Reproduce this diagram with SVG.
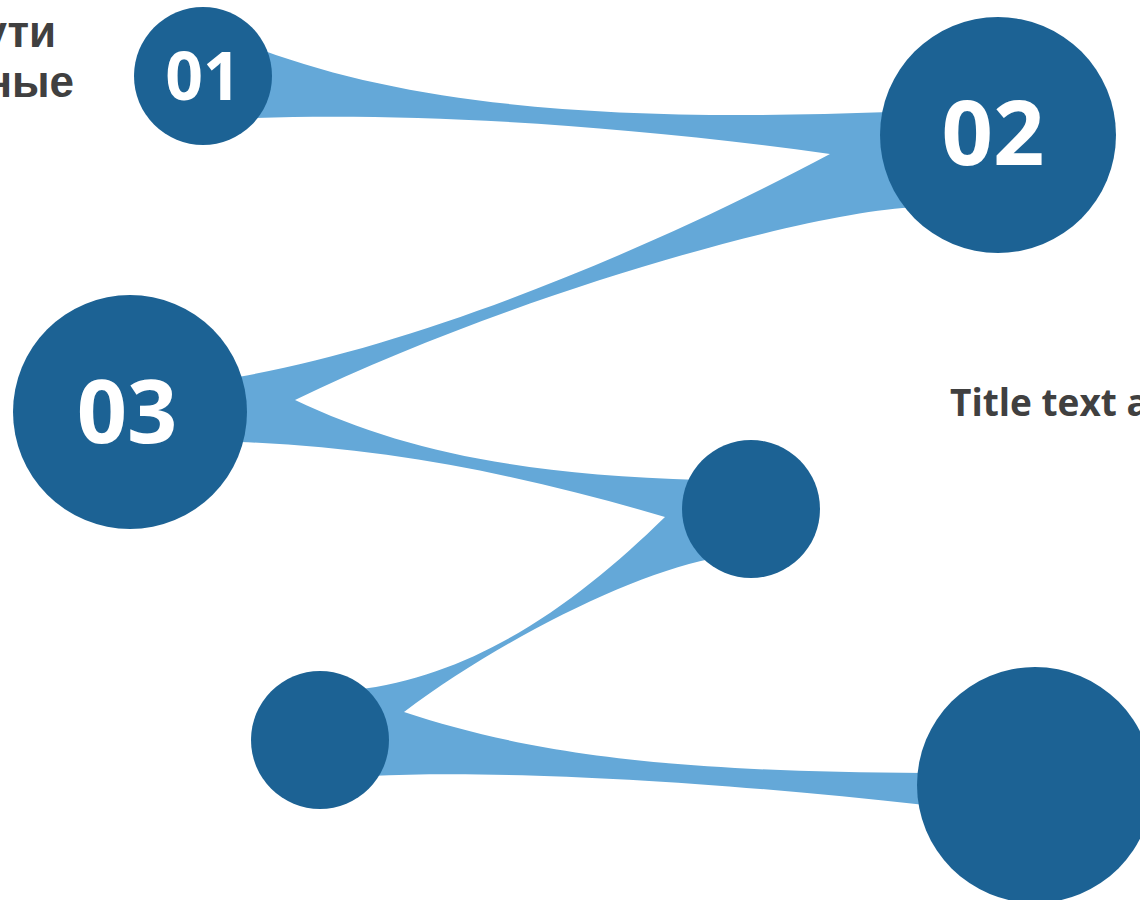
<svg xmlns="http://www.w3.org/2000/svg" width="1140" height="900" viewBox="0 0 1140 900">
  <style>
    .ribbon { fill: #64A8D8; }
    .node { fill: #1C6294; }
    .num { fill: #FFFFFF; font-family: "Open Sans", "Liberation Sans", sans-serif; font-weight: bold; text-anchor: middle; }
    .label { fill: #404040; font-weight: bold; }
  </style>
  <rect width="1140" height="900" fill="#FFFFFF"/>
  <g id="connectors">
    <path class="ribbon" d="M 262 50 C 420 108, 620 122, 890 112 L 917 207 C 800 212, 500 300, 295 400 C 400 450, 520 475, 700 480 L 710 559 C 630 575, 500 640, 404 712 C 520 750, 650 772, 925 773 L 925 805 C 700 780, 500 770, 370 776 L 355 690 C 480 675, 580 600, 665 517 C 540 480, 400 448, 240 442 L 238 377 C 420 345, 650 250, 830 154 C 600 122, 400 113, 255 118 Z"/>
  </g>
  <g id="label-left" class="label" font-family="Liberation Sans, Arial, sans-serif" font-size="44" text-anchor="end">
    <text x="56" y="47">ути</text>
    <text x="74" y="97">ные</text>
  </g>
  <g id="node-01">
    <circle class="node" cx="203" cy="76" r="69"/>
    <text class="num" x="203" y="100" font-size="66">01</text>
  </g>
  <g id="node-02">
    <circle class="node" cx="998" cy="135" r="118"/>
    <text class="num" x="993" y="165" font-size="90">02</text>
  </g>
  <g id="node-03">
    <circle class="node" cx="130" cy="412" r="117"/>
    <text class="num" x="127" y="443" font-size="88">03</text>
  </g>
  <g id="node-04">
    <circle class="node" cx="751" cy="509" r="69"/>
  </g>
  <g id="node-05">
    <circle class="node" cx="320" cy="740" r="69"/>
  </g>
  <g id="node-06">
    <circle class="node" cx="1035" cy="785" r="118"/>
  </g>
  <g id="title">
    <text class="label" x="950" y="416" font-family="Open Sans, Liberation Sans, sans-serif" font-size="37">Title text a</text>
  </g>
</svg>
